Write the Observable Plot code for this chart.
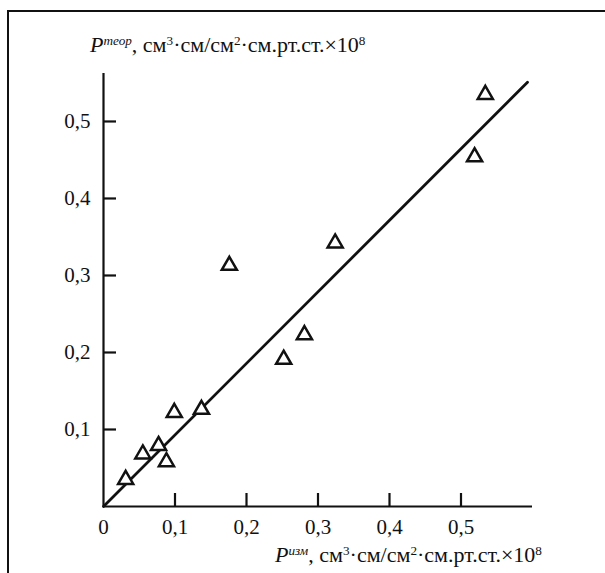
<!DOCTYPE html>
<html>
<head>
<meta charset="utf-8">
<script src="https://cdn.jsdelivr.net/npm/d3@7"></script>
<script src="https://cdn.jsdelivr.net/npm/@observablehq/plot@0.6"></script>
<style>
  html, body { margin: 0; padding: 0; background: #fff; overflow: hidden; }
  #wrap { position: relative; width: 605px; height: 573px; overflow: hidden; font-family: "Liberation Serif", "DejaVu Serif", serif; color: #111; }
  #frame { position: absolute; left: 7px; top: 10px; width: 800px; height: 800px; border: 2px solid #111; box-sizing: border-box; }
  #chart { position: absolute; left: 0; top: 0; }
  .ttl { position: absolute; font-family: "Liberation Serif", "DejaVu Serif", serif; font-size: 22px; white-space: nowrap; line-height: 1; }
  .ttl sup { font-size: 60%; vertical-align: 0.55em; line-height: 0; }
  #chart svg text { font-family: "Liberation Serif", "DejaVu Serif", serif !important; }
</style>
</head>
<body>
<div id="wrap">
  <div id="frame"></div>
  <div id="chart"></div>
  <div class="ttl" id="ytitle" style="left:90px; top:34px;"><i>P</i><sup><i>теор</i></sup>, см<sup>3</sup>·см/см<sup>2</sup>·см.рт.ст.×10<sup>8</sup></div>
  <div class="ttl" id="xtitle" style="left:275px; top:544px;"><i>P</i><sup><i>изм</i></sup>, см<sup>3</sup>·см/см<sup>2</sup>·см.рт.ст.×10<sup>8</sup></div>
</div>
<script>
// Experimental (x) vs theoretical (y) permeability points
const pExp  = [0.031, 0.055, 0.077, 0.088, 0.099, 0.137, 0.176, 0.252, 0.281, 0.324, 0.519, 0.534];
const pTheo = [0.035, 0.068, 0.079, 0.058, 0.122, 0.126, 0.313, 0.191, 0.223, 0.342, 0.454, 0.535];

// Fitted line end points
const lineX = [0, 0.593];
const lineY = [0, 0.551];

// Axis ticks
const xTicks = [0, 0.1, 0.2, 0.3, 0.4, 0.5];
const yTicks = [0.1, 0.2, 0.3, 0.4, 0.5];
const xMax = 0.6;
const yMax = 0.5623;

const points = pExp.map((x, i) => ({x, y: pTheo[i]}));
const fitLine = lineX.map((x, i) => ({x, y: lineY[i]}));
const fmt = d => d === 0 ? "0" : String(d).replace(".", ",");
const ink = "#111";

const chart = Plot.plot({
  width: 605,
  height: 573,
  marginLeft: 103,
  marginRight: 73,
  marginTop: 73,
  marginBottom: 67,
  style: {fontFamily: "'Liberation Serif', 'DejaVu Serif', serif", fontSize: "21px", color: ink, background: "transparent"},
  x: {domain: [0, xMax]},
  y: {domain: [0, yMax]},
  marks: [
    Plot.axisX({ticks: xTicks, tickSize: 0, tickPadding: 13, tickFormat: fmt, label: null, fill: ink}),
    Plot.axisY({ticks: yTicks, tickSize: 0, tickPadding: 13, tickFormat: fmt, label: null, fill: ink}),
    // inward tick marks
    Plot.ruleX(xTicks.filter(d => d > 0), {x: d => d, y1: 0, y2: 0, insetTop: 0, insetBottom: 13, stroke: ink, strokeWidth: 2.2}),
    Plot.ruleY(yTicks, {y: d => d, x1: 0, x2: 0, insetLeft: 0, insetRight: -13, stroke: ink, strokeWidth: 2.2}),
    // axis lines
    Plot.ruleY([0], {x1: 0, x2: xMax, stroke: ink, strokeWidth: 2.2}),
    Plot.ruleX([0], {y1: 0, y2: yMax, stroke: ink, strokeWidth: 2.2}),
    Plot.line(fitLine, {x: "x", y: "y", stroke: ink, strokeWidth: 2.8}),
    Plot.dot(points, {x: "x", y: "y", symbol: "triangle", r: 5.6, stroke: ink, strokeWidth: 2.5, fill: "white"})
  ]
});
document.getElementById("chart").appendChild(chart);
</script>
</body>
</html>
